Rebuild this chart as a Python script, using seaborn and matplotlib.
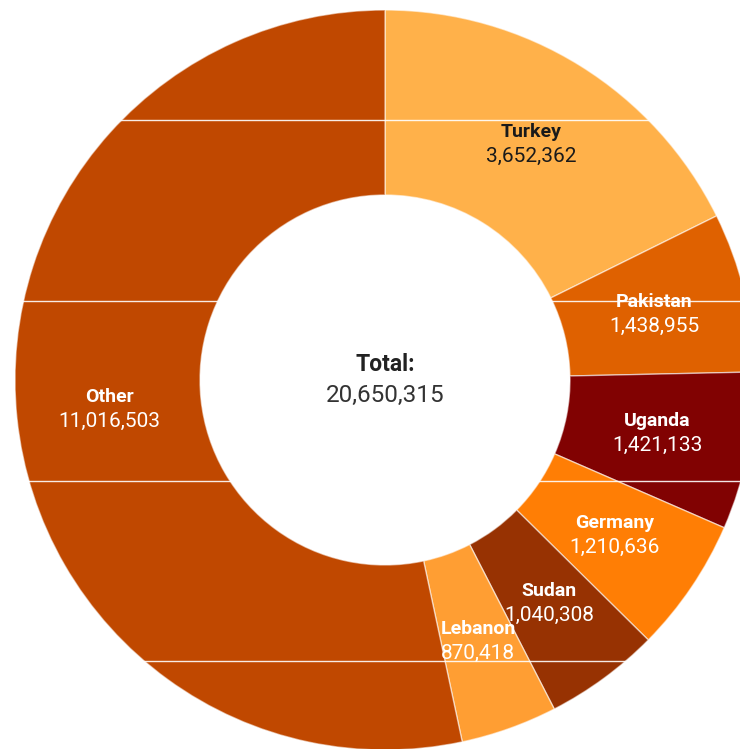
import matplotlib
matplotlib.use("Agg")
import matplotlib.pyplot as plt
import numpy as np
import seaborn as sns
from matplotlib.lines import Line2D

# data
countries = ["Turkey", "Pakistan", "Uganda", "Germany", "Sudan", "Lebanon", "Other"]
refugees = [3652362, 1438955, 1421133, 1210636, 1040308, 870418, 11016503]
colors = ["#FFB14A", "#DF6100", "#810202", "#FF7E05", "#973202", "#FF9E33", "#C04800"]
text_colors = ["#1a1a1a", "white", "white", "white", "white", "white", "white"]

sns.set_theme(style="white")
plt.rcParams["font.family"] = ["Roboto", "DejaVu Sans"]

fig = plt.figure(figsize=(7.40, 7.49), dpi=100)
# centre of the donut at (385, 380) px, outer radius 370 px
W, H = 740, 749
cx, cy, r = 385, 380, 370
ax = fig.add_axes([(cx - r) / W, (H - cy - r) / H, 2 * r / W, 2 * r / H])

wedges, _ = ax.pie(refugees, colors=colors, startangle=90, counterclock=False,
                   wedgeprops=dict(width=0.5, edgecolor=(1, 1, 1, 0.55), linewidth=1))
ax.set_xlim(-1, 1)
ax.set_ylim(-1, 1)
ax.set_aspect("equal")
ax.axis("off")

total = sum(refugees)
for w, name, val, tc in zip(wedges, countries, refugees, text_colors):
    mid = np.deg2rad((w.theta1 + w.theta2) / 2)
    x, y = 0.75 * np.cos(mid), 0.75 * np.sin(mid)
    ax.text(x, y + 0.033, name, ha="center", va="center", fontsize=14,
            fontweight="bold", color=tc)
    ax.text(x, y - 0.033, f"{val:,}", ha="center", va="center", fontsize=15,
            color=tc)

ax.text(0, 0.042, "Total:", ha="center", va="center", fontsize=16.5,
        fontweight="bold", color="#222222")
ax.text(0, -0.042, f"{total:,}", ha="center", va="center", fontsize=17.5,
        color="#333333")

# thin white seams across the image
for yp in [120, 301, 481, 661]:
    fig.add_artist(Line2D([0, 1], [1 - yp / H, 1 - yp / H], transform=fig.transFigure,
                          color="white", linewidth=1, alpha=0.9))

fig.savefig("out.png", dpi=100)
